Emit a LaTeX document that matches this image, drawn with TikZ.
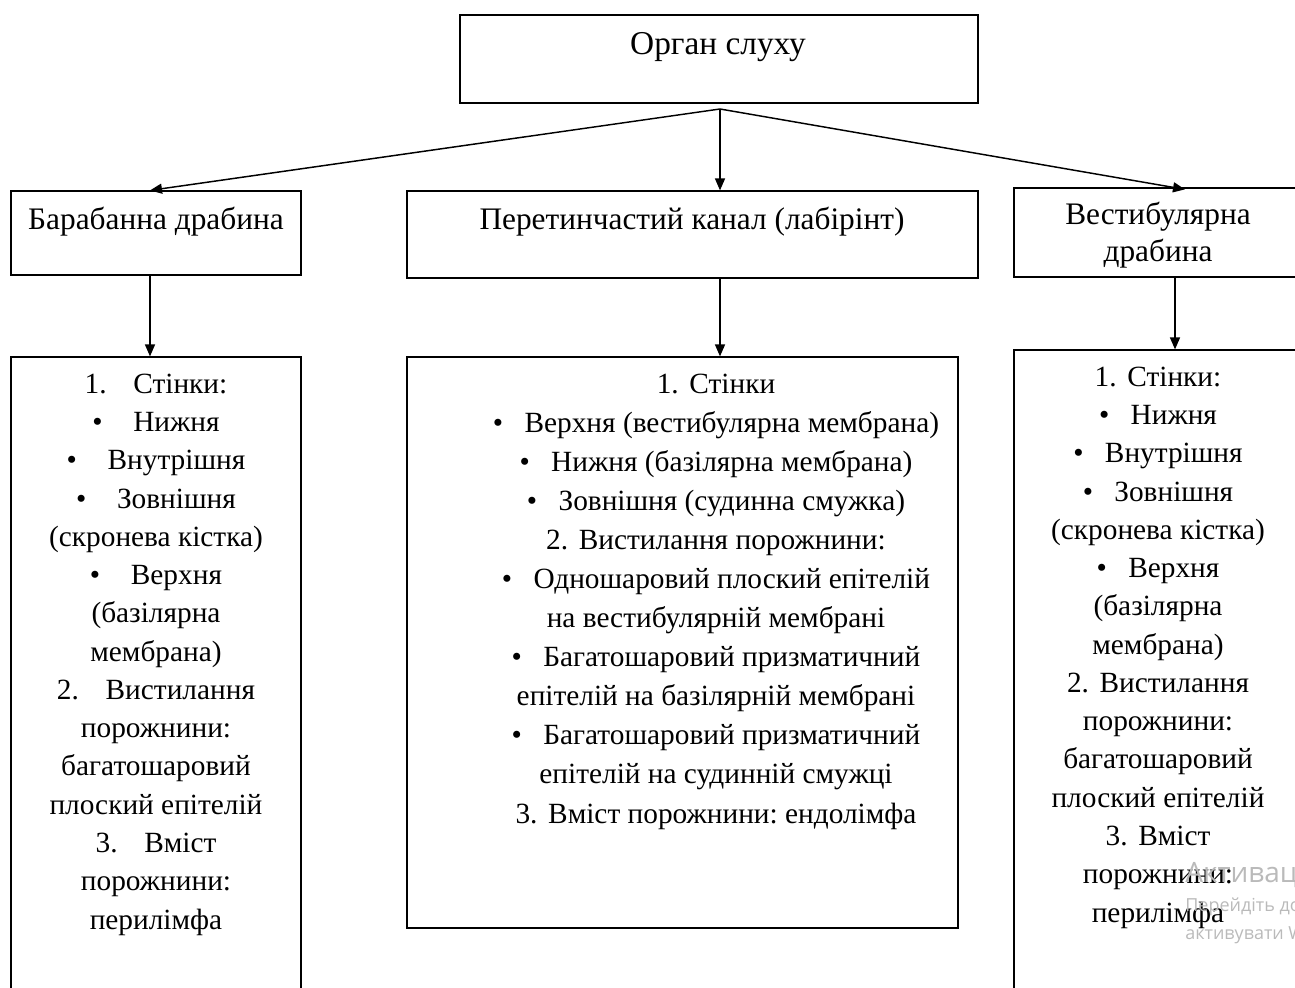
\documentclass[tikz,border=0pt]{standalone}
\usepackage{fontspec}
\setmainfont{Liberation Serif}
\newfontfamily\wmfont{Open Sans}
\usetikzlibrary{arrows.meta}
\frenchspacing

% bullet followed by a fixed gap
\newcommand{\itm}[1][8pt]{\textbullet\hspace{#1}}

\begin{document}
\begin{tikzpicture}[x=0.75pt, y=-0.75pt,
  box/.style 2 args={draw, line width=0.9pt, minimum width={#1*0.75pt},
    minimum height={#2*0.75pt}, inner sep=0pt},
  txt/.style={font=\fontsize{23.5}{28}\selectfont, align=center,
    inner sep=0pt, anchor=base},
  list/.style={txt, font=\fontsize{22}{#1}\selectfont},
  arr/.style={line width=1.1pt, -{Triangle[length=9pt, width=7.5pt]}},
  wm/.style={text=black!27, anchor=base west, inner sep=0pt}]

\useasboundingbox (0,0) rectangle (1295,988);

% ---------- top level ----------
\node[box={518}{88}] (organ) at (719,59) {};
\node[txt, font=\fontsize{25}{28}\selectfont] (organT) at (718,55) {Орган слуху};
\coordinate (hub) at (720,109);

% ---------- second level ----------
\node[box={290}{84}] (scalaT) at (156,233) {};
\node[txt] (scalaTt) at (156,229) {Барабанна драбина};

\node[box={571}{87}] (duct) at (692.5,234.5) {};
\node[txt] (ductt) at (692,229) {Перетинчастий канал (лабірінт)};

\node[box={290}{89}] (scalaV) at (1159,232.5) {};
\node[txt, font=\fontsize{23.5}{27.5}\selectfont] (scalaVt) at (1158,261) {Вестибулярна\\драбина};

% ---------- third level (multi-line texts are placed by their last baseline) ----------
\node[box={290}{660}] (scalaTd) at (156,687) {};
\node[list=28.7pt] (scalaTdt) at (156,929) {%
  1.\hspace{20pt}Стінки:\\
  \itm[23pt]Нижня\\
  \itm[23pt]Внутрішня\\
  \itm[23pt]Зовнішня\\
  (скронева кістка)\\
  \itm[23pt]Верхня\\
  (базілярна\\
  мембрана)\\
  2.\hspace{20pt}Вистилання\\
  порожнини:\\
  багатошаровий\\
  плоский епітелій\\
  3.\hspace{20pt}Вміст\\
  порожнини:\\
  перилімфа};

\node[box={551}{571}] (ductd) at (682.5,642.5) {};
\node[list=29.3pt] (ductdt) at (716,823) {%
  1.\hspace{8pt}Стінки\\
  \itm[16pt]Верхня (вестибулярна мембрана)\\
  \itm[16pt]Нижня (базілярна мембрана)\\
  \itm[16pt]Зовнішня (судинна смужка)\\
  2.\hspace{8pt}Вистилання порожнини:\\
  \itm[16pt]Одношаровий плоский епітелій\\
  на вестибулярній мембрані\\
  \itm[16pt]Багатошаровий призматичний\\
  епітелій на базілярній мембрані\\
  \itm[16pt]Багатошаровий призматичний\\
  епітелій на судинній смужці\\
  3.\hspace{8pt}Вміст порожнини: ендолімфа};

\node[box={290}{670}] (scalaVd) at (1159,685) {};
\node[list=28.7pt] (scalaVdt) at (1158,922) {%
  1.\hspace{8pt}Стінки:\\
  \itm[16pt]Нижня\\
  \itm[16pt]Внутрішня\\
  \itm[16pt]Зовнішня\\
  (скронева кістка)\\
  \itm[16pt]Верхня\\
  (базілярна\\
  мембрана)\\
  2.\hspace{8pt}Вистилання\\
  порожнини:\\
  багатошаровий\\
  плоский епітелій\\
  3.\hspace{8pt}Вміст\\
  порожнини:\\
  перилімфа};

% ---------- connectors ----------
\draw[arr] (hub) -- ([xshift=-4.5pt]scalaT.north);
\draw[arr] (hub) -- (duct.north -| hub);
\draw[arr] (hub) -- ([xshift=19.5pt, yshift=-1.5pt]scalaV.north);

\draw[arr] ([xshift=-4.5pt]scalaT.south) -- ([xshift=-4.5pt]scalaTd.north);
\draw[arr] (duct.south -| hub) -- (ductd.north -| hub);
\draw[arr] ([xshift=12pt]scalaV.south) -- ([xshift=12pt]scalaVd.north);

% ---------- system overlay text ----------
\node[wm, font=\wmfont\fontsize{21}{21}\selectfont] (wm1) at (1185,882) {Активація Windows};
\node[wm, font=\wmfont\fontsize{13.5}{13.5}\selectfont] (wm2) at (1185,911) {Перейдіть до розділу «Настройки»};
\node[wm, font=\wmfont\fontsize{13.5}{13.5}\selectfont] (wm3) at (1185,939) {активувати Windows.};
\end{tikzpicture}
\end{document}
